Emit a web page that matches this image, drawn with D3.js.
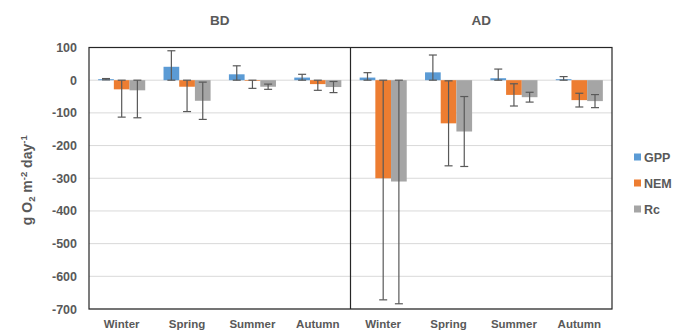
<!DOCTYPE html>
<html>
<head>
<meta charset="utf-8">
<script src="https://cdn.jsdelivr.net/npm/d3@7"></script>
<style>
  body { margin: 0; background: #fff; }
  text { font-family: "Liberation Sans", Arial, sans-serif; font-weight: bold; fill: #595959; }
</style>
</head>
<body>
<div id="vis"></div>
<script>
const FRAME_WIDTH = 693;
const FRAME_HEIGHT = 335;
const MARGINS = {left: 89, right: 81, top: 47.5, bottom: 26};

// data
const periods = ["BD", "AD"];
const seasons = ["Winter", "Spring", "Summer", "Autumn"];
const seriesNames = ["GPP", "NEM", "Rc"];
const colors = ["#5B9BD5", "#ED7D31", "#A5A5A5"];

const gpp    = [3, 41, 18, 8, 8, 24, 6, 3];
const gppErr = [2, 49, 26, 10, 15, 53, 28, 8];
const nem    = [-28, -20, -2, -12, -300, -132, -45, -61];
const nemErr = [85, 76, 23, 19, 372, 130, 34, 21];
const rc     = [-31, -63, -20, -21, -310, -157, -52, -64];
const rcErr  = [84, 57, 8, 17, 374, 107, 15, 20];

const yTicks = [100, 0, -100, -200, -300, -400, -500, -600, -700];

const values = [gpp, nem, rc];
const errors = [gppErr, nemErr, rcErr];

const keys = [];
periods.forEach(p => seasons.forEach(s => keys.push(p + "-" + s)));

const rows = [];
keys.forEach((k, i) => {
  seriesNames.forEach((name, j) => {
    rows.push({key: k, series: name, color: colors[j], v: values[j][i], e: errors[j][i]});
  });
});

const FRAME1 = d3.select("#vis")
  .append("svg")
    .attr("width", FRAME_WIDTH)
    .attr("height", FRAME_HEIGHT);

const VIS_WIDTH = FRAME_WIDTH - MARGINS.left - MARGINS.right;
const VIS_HEIGHT = FRAME_HEIGHT - MARGINS.top - MARGINS.bottom;

const X0 = d3.scaleBand()
  .domain(keys)
  .range([MARGINS.left, MARGINS.left + VIS_WIDTH]);

const GROUP_W = X0.bandwidth() * 0.72;
const X1 = d3.scaleBand()
  .domain(seriesNames)
  .range([(X0.bandwidth() - GROUP_W) / 2, (X0.bandwidth() + GROUP_W) / 2]);

const Y_SCALE = d3.scaleLinear()
  .domain([-700, 100])
  .range([MARGINS.top + VIS_HEIGHT, MARGINS.top]);

// gridlines
FRAME1.append("g")
  .selectAll("line")
  .data(yTicks)
  .enter()
  .append("line")
    .attr("x1", MARGINS.left)
    .attr("x2", MARGINS.left + VIS_WIDTH)
    .attr("y1", d => Y_SCALE(d))
    .attr("y2", d => Y_SCALE(d))
    .attr("stroke", "#D9D9D9")
    .attr("stroke-width", 1);

// bars
FRAME1.append("g")
  .selectAll("rect")
  .data(rows)
  .enter()
  .append("rect")
    .attr("x", d => X0(d.key) + X1(d.series))
    .attr("width", X1.bandwidth())
    .attr("y", d => Y_SCALE(Math.max(0, d.v)))
    .attr("height", d => Math.abs(Y_SCALE(d.v) - Y_SCALE(0)))
    .attr("fill", d => d.color);

// error bars (they stop at the zero line)
const errG = FRAME1.append("g")
  .attr("stroke", "#595959")
  .attr("stroke-width", 1.2);

rows.forEach(d => {
  let lo = d.v - d.e, hi = d.v + d.e;
  if (d.v >= 0) lo = Math.max(lo, 0); else hi = Math.min(hi, 0);
  const cx = X0(d.key) + X1(d.series) + X1.bandwidth() / 2;
  errG.append("line")
    .attr("x1", cx).attr("x2", cx)
    .attr("y1", Y_SCALE(hi)).attr("y2", Y_SCALE(lo));
  [lo, hi].forEach(v => {
    errG.append("line")
      .attr("x1", cx - 4).attr("x2", cx + 4)
      .attr("y1", Y_SCALE(v)).attr("y2", Y_SCALE(v));
  });
});

// frame and panel divider
FRAME1.append("rect")
  .attr("x", MARGINS.left)
  .attr("y", MARGINS.top)
  .attr("width", VIS_WIDTH)
  .attr("height", VIS_HEIGHT)
  .attr("fill", "none")
  .attr("stroke", "#262626")
  .attr("stroke-width", 1.2);

FRAME1.append("line")
  .attr("x1", X0("AD-Winter")).attr("x2", X0("AD-Winter"))
  .attr("y1", MARGINS.top).attr("y2", MARGINS.top + VIS_HEIGHT)
  .attr("stroke", "#262626")
  .attr("stroke-width", 1.2);

// y axis labels (plain hyphen minus like the original)
FRAME1.append("g")
  .attr("transform", "translate(" + (MARGINS.left - 12) + ",0)")
  .call(d3.axisLeft(Y_SCALE).tickValues(yTicks).tickSize(0).tickPadding(0)
    .tickFormat(d => String(d)))
  .call(g => g.select(".domain").remove())
  .selectAll("text")
    .attr("font-size", "12.5px")
    .attr("font-family", null)
    .attr("fill", null);

// category labels
FRAME1.append("g")
  .selectAll("text")
  .data(keys)
  .enter()
  .append("text")
    .attr("x", d => X0(d) + X0.bandwidth() / 2)
    .attr("y", MARGINS.top + VIS_HEIGHT + 19)
    .attr("text-anchor", "middle")
    .attr("font-size", "11.5px")
    .text(d => d.split("-")[1]);

// panel titles
FRAME1.append("g")
  .selectAll("text")
  .data(periods)
  .enter()
  .append("text")
    .attr("x", p => {
      const ks = keys.filter(k => k.startsWith(p + "-"));
      return (X0(ks[0]) + X0(ks[ks.length - 1]) + X0.bandwidth()) / 2;
    })
    .attr("y", 25)
    .attr("text-anchor", "middle")
    .attr("font-size", "13.5px")
    .text(d => d);

// y axis title
const yTitle = FRAME1.append("text")
  .attr("transform", "translate(32," + (MARGINS.top + VIS_HEIGHT / 2 + 2) + ") rotate(-90)")
  .attr("text-anchor", "middle")
  .attr("font-size", "14px");
yTitle.append("tspan").text("g O");
yTitle.append("tspan").attr("font-size", "9.5px").attr("dy", 3).text("2");
yTitle.append("tspan").attr("dy", -3).text(" m");
yTitle.append("tspan").attr("font-size", "9.5px").attr("dy", -5).text("-2");
yTitle.append("tspan").attr("dy", 5).text(" day");
yTitle.append("tspan").attr("font-size", "9.5px").attr("dy", -5).text("-1");

// legend
const legend = FRAME1.append("g")
  .selectAll("g")
  .data(seriesNames)
  .enter()
  .append("g")
    .attr("transform", (d, i) => "translate(634," + (157 + i * 26) + ")");

legend.append("rect")
  .attr("x", 0).attr("y", -3.5)
  .attr("width", 7).attr("height", 7)
  .attr("fill", (d, i) => colors[i]);

legend.append("text")
  .attr("x", 10).attr("y", 4.5)
  .attr("font-size", "12.5px")
  .text(d => d);
</script>
</body>
</html>
